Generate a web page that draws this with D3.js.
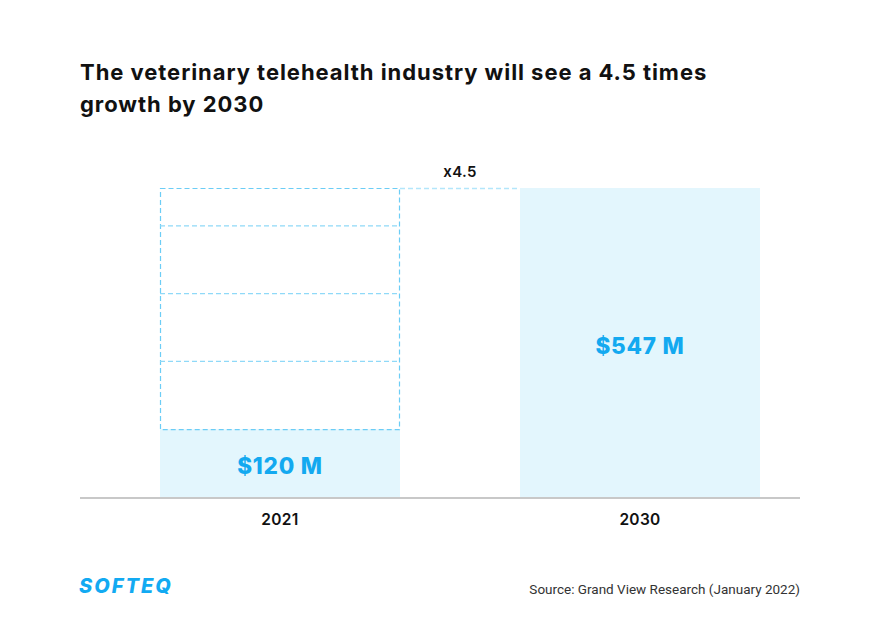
<html>
<script src="https://d3js.org/d3.v7.min.js"></script>
<style>
  body { margin: 0; background: #fff; }
  text { font-family: Inter, "Noto Sans", sans-serif; }
</style>
<body>
<div id="chart"></div>
<script>
  const years = ["2021", "2030"];
  const values = [120, 547];
  const valueLabels = ["$120 M", "$547 M"];
  const ghostSteps = [240, 360, 480];
  const growthLabel = "x4.5";

  const W = 880, H = 625;
  const svg = d3.select("#chart").append("svg")
    .attr("width", W).attr("height", H);

  // title
  const title = svg.append("text")
    .attr("x", 80).attr("y", 80)
    .style("font-size", "22px").style("font-weight", 700)
    .style("letter-spacing", "0.95px").attr("fill", "#111");
  title.append("tspan").attr("x", 80).attr("y", 80)
    .text("The veterinary telehealth industry will see a 4.5 times");
  title.append("tspan").attr("x", 80).attr("y", 112)
    .text("growth by 2030");

  const x = d3.scaleBand().domain(years).range([100, 820])
    .paddingInner(1 / 3).paddingOuter(1 / 6);
  const y = d3.scaleLinear().domain([0, d3.max(values)]).range([497, 188]);

  // bars
  svg.selectAll(".bar").data(years).enter().append("rect")
    .attr("class", "bar")
    .attr("x", d => x(d))
    .attr("width", x.bandwidth())
    .attr("y", (d, i) => y(values[i]))
    .attr("height", (d, i) => y(0) - y(values[i]))
    .attr("fill", "#e3f6fd");

  // ghost outline on the first bar up to the last value
  const x0 = x(years[0]), bw = x.bandwidth();
  svg.append("rect")
    .attr("x", x0 + 0.5).attr("y", y(values[1]) + 0.5)
    .attr("width", bw - 1).attr("height", y(values[0]) - y(values[1]))
    .attr("fill", "none").attr("stroke", "#6ccdf6")
    .attr("stroke-width", 1.2).attr("stroke-dasharray", "5,3");

  svg.selectAll(".ghost").data(ghostSteps).enter().append("line")
    .attr("x1", x0).attr("x2", x0 + bw)
    .attr("y1", d => y(d)).attr("y2", d => y(d))
    .attr("stroke", "#8fd9f8").attr("stroke-width", 1.4)
    .attr("stroke-dasharray", "5,3");

  // connector from ghost top to the 2030 bar
  svg.append("line")
    .attr("x1", x0 + bw).attr("x2", x(years[1]))
    .attr("y1", y(values[1]) + 0.5).attr("y2", y(values[1]) + 0.5)
    .attr("stroke", "#b3e6fb").attr("stroke-width", 1.4)
    .attr("stroke-dasharray", "5,3");

  svg.append("text")
    .attr("x", (x0 + bw + x(years[1])) / 2).attr("y", 177)
    .attr("text-anchor", "middle")
    .style("font-size", "15px").style("font-weight", 600)
    .style("letter-spacing", "0.3px").attr("fill", "#111")
    .text(growthLabel);

  // value labels
  svg.selectAll(".val").data(years).enter().append("text")
    .attr("x", d => x(d) + bw / 2)
    .attr("y", (d, i) => i === 0 ? 474 : (y(values[i]) + y(0)) / 2 + 11)
    .attr("text-anchor", "middle")
    .style("font-size", "22.5px").style("font-weight", 800)
    .style("letter-spacing", "0.8px")
    .attr("fill", "#13a9f0")
    .text((d, i) => valueLabels[i]);

  // baseline
  svg.append("line")
    .attr("x1", 80).attr("x2", 800)
    .attr("y1", y(0) + 1).attr("y2", y(0) + 1)
    .attr("stroke", "#c8c8c8").attr("stroke-width", 2);

  // x labels
  svg.selectAll(".xl").data(years).enter().append("text")
    .attr("x", d => x(d) + bw / 2).attr("y", 525)
    .attr("text-anchor", "middle")
    .style("font-size", "15.5px").style("font-weight", 600)
    .style("letter-spacing", "0.3px").attr("fill", "#111")
    .text(d => d);

  // footer
  svg.append("text")
    .attr("x", 79).attr("y", 593)
    .style("font-size", "20px").style("font-weight", 800)
    .style("font-style", "italic").style("letter-spacing", "2px")
    .attr("fill", "#12aaf2")
    .text("SOFTEQ");

  svg.append("text")
    .attr("x", 800).attr("y", 594)
    .attr("text-anchor", "end")
    .style("font-family", "Roboto, sans-serif")
    .style("font-size", "13.5px").attr("fill", "#333")
    .text("Source: Grand View Research (January 2022)");
</script>
</body>
</html>
